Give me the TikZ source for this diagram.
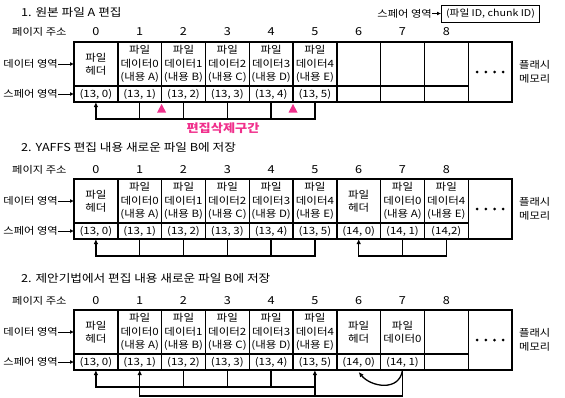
\documentclass[tikz,border=0pt]{standalone}
\usepackage{fontspec}
\setmainfont{Noto Sans CJK KR}[FakeStretch=1.15]
\usetikzlibrary{arrows.meta,calc}
\definecolor{pinkc}{HTML}{F0308C}
\begin{document}
\begin{tikzpicture}[x=1pt,y=-1pt,
  cell/.style={draw,line width=1.4pt,inner sep=0pt,outer sep=0pt,anchor=north west,
    minimum width=43.8pt,align=center,font=\fontsize{10}{13.3}\selectfont},
  datacell/.style={cell,minimum height=44pt},
  sparecell/.style={cell,minimum height=16pt,font=\fontsize{10}{12}\selectfont},
  num/.style={font=\fontsize{11}{12}\selectfont,inner sep=0pt},
  lab/.style={font=\fontsize{9.8}{14.5}\selectfont,inner sep=0pt},
  ttl/.style={font=\fontsize{11}{12}\selectfont,inner sep=0pt,anchor=west},
  conn/.style={line width=1.3pt},
  tip/.style={-{Latex[length=5pt,width=4.5pt]}},
  labarrow/.style={line width=1pt,-{Latex[length=4pt,width=4pt]}},
]
\useasboundingbox (0,0) rectangle (565,397);

% ---------- legend ----------
\node[draw,line width=1pt,inner sep=0pt,minimum width=98pt,minimum height=17pt,anchor=west,
  font=\fontsize{9.3}{12}\selectfont] (leg) at (441,13.5) {(파일 ID, chunk ID)};
\node[lab,anchor=east] (legl) at (432,13.5) {스페어 영역};
\draw[labarrow] (legl.east) -- (leg.west);

% ================= Section 1 =================
\node[ttl] (at) at (21,12) {1. 원본 파일 A 편집};
\node[lab,anchor=west] (ap) at (12,32) {페이지 주소};
\foreach \i/\t/\s in {
 0/{파일\\헤더}/{(13, 0)},
 1/{파일\\데이터0\\(내용 A)}/{(13, 1)},
 2/{파일\\데이터1\\(내용 B)}/{(13, 2)},
 3/{파일\\데이터2\\(내용 C)}/{(13, 3)},
 4/{파일\\데이터3\\(내용 D)}/{(13, 4)},
 5/{파일\\데이터4\\(내용 E)}/{(13, 5)},
 6/{}/{}, 7/{}/{}, 8/{}/{}}
{
 \node[datacell] (ad\i) at ({74+43.8*\i},42) {\t};
 \node[sparecell] (as\i) at ({74+43.8*\i},86) {\s};
 \node[num] (an\i) at ({95.9+43.8*\i},32) {\i};
}
\node[cell,minimum height=60pt] (adots) at (468.2,42) {};
\foreach \k in {0,...,3} \fill (adots.center) ++({-13+8.7*\k},0) circle (1.5);
\node[lab,anchor=east] (adl) at (58,64) {데이터 영역};
\draw[labarrow] (adl.east) -- (adl.east -| ad0.west);
\node[lab,anchor=east] (asl) at (58,94) {스페어 영역};
\draw[labarrow] (asl.east) -- (asl.east -| as0.west);
\node[lab,align=left,anchor=west] (af) at (519,72) {플래시\\메모리};

\draw[conn,tip] (as5.south) -- ++(0,17) -| (as0.south);
\foreach \i in {1,...,4} \draw[conn] (as\i.south) -- ++(0,17);
\fill[pinkc] ($(as1.south east)+(-4.5,10.5)$) -- ++(9,0) -- ++(-4.5,-8.5) -- cycle;
\fill[pinkc] ($(as4.south east)+(-4.5,10.5)$) -- ++(9,0) -- ++(-4.5,-8.5) -- cycle;
\node[font=\fontsize{11.5}{12}\selectfont\bfseries,text=pinkc,inner sep=0pt] (adel) at (223,128) {편집삭제구간};

% ================= Section 2 =================
\node[ttl] (bt) at (21,147) {2. YAFFS 편집 내용 새로운 파일 B에 저장};
\node[lab,anchor=west] (bp) at (12,170) {페이지 주소};
\foreach \i/\t/\s in {
 0/{파일\\헤더}/{(13, 0)},
 1/{파일\\데이터0\\(내용 A)}/{(13, 1)},
 2/{파일\\데이터1\\(내용 B)}/{(13, 2)},
 3/{파일\\데이터2\\(내용 C)}/{(13, 3)},
 4/{파일\\데이터3\\(내용 D)}/{(13, 4)},
 5/{파일\\데이터4\\(내용 E)}/{(13, 5)},
 6/{파일\\헤더}/{(14, 0)},
 7/{파일\\데이터0\\(내용 A)}/{(14, 1)},
 8/{파일\\데이터4\\(내용 E)}/{(14,2)}}
{
 \node[datacell] (bd\i) at ({74+43.8*\i},179) {\t};
 \node[sparecell] (bs\i) at ({74+43.8*\i},223) {\s};
 \node[num] (bn\i) at ({95.9+43.8*\i},170) {\i};
}
\node[cell,minimum height=60pt] (bdots) at (468.2,179) {};
\foreach \k in {0,...,3} \fill (bdots.center) ++({-13+8.7*\k},0) circle (1.5);
\node[lab,anchor=east] (bdl) at (58,201) {데이터 영역};
\draw[labarrow] (bdl.east) -- (bdl.east -| bd0.west);
\node[lab,anchor=east] (bsl) at (58,231) {스페어 영역};
\draw[labarrow] (bsl.east) -- (bsl.east -| bs0.west);
\node[lab,align=left,anchor=west] (bf) at (519,209) {플래시\\메모리};

\draw[conn,tip] (bs5.south) -- ++(0,17) -| (bs0.south);
\foreach \i in {1,...,4} \draw[conn] (bs\i.south) -- ++(0,17);
\draw[conn,tip] (bs8.south) -- ++(0,17) -| (bs6.south);
\draw[conn] (bs7.south) -- ++(0,17);

% ================= Section 3 =================
\node[ttl] (ct) at (21,278) {2. 제안기법에서 편집 내용 새로운 파일 B에 저장};
\node[lab,anchor=west] (cp) at (12,301) {페이지 주소};
\foreach \i/\t/\s in {
 0/{파일\\헤더}/{(13, 0)},
 1/{파일\\데이터0\\(내용 A)}/{(13, 1)},
 2/{파일\\데이터1\\(내용 B)}/{(13, 2)},
 3/{파일\\데이터2\\(내용 C)}/{(13, 3)},
 4/{파일\\데이터3\\(내용 D)}/{(13, 4)},
 5/{파일\\데이터4\\(내용 E)}/{(13, 5)},
 6/{파일\\헤더}/{(14, 0)},
 7/{파일\\데이터0}/{(14, 1)},
 8/{}/{}}
{
 \node[datacell] (cd\i) at ({74+43.8*\i},310) {\t};
 \node[sparecell] (cs\i) at ({74+43.8*\i},354) {\s};
 \node[num] (cn\i) at ({95.9+43.8*\i},301) {\i};
}
\node[cell,minimum height=60pt] (cdots) at (468.2,310) {};
\foreach \k in {0,...,3} \fill (cdots.center) ++({-13+8.7*\k},0) circle (1.5);
\node[lab,anchor=east] (cdl) at (58,332) {데이터 영역};
\draw[labarrow] (cdl.east) -- (cdl.east -| cd0.west);
\node[lab,anchor=east] (csl) at (58,362) {스페어 영역};
\draw[labarrow] (csl.east) -- (csl.east -| cs0.west);
\node[lab,align=left,anchor=west] (cf) at (519,340) {플래시\\메모리};

\draw[conn,tip] (cs5.south) ++(0,17) -| (cs0.south);
\foreach \i in {2,3,4} \draw[conn] (cs\i.south) -- ++(0,17);
\draw[conn,tip] (cs7.south) -- ++(0,26) -| (cs1.south);
\draw[conn,tip] ($(cs5.south)+(0,26)$) -- (cs5.south);
\draw[conn,tip] (cs7.south) .. controls ($(cs7.south)+(-3,22)$) and ($(cs6.south)+(12,17)$) .. ($(cs6.south)+(0,2)$);
\end{tikzpicture}
\end{document}
